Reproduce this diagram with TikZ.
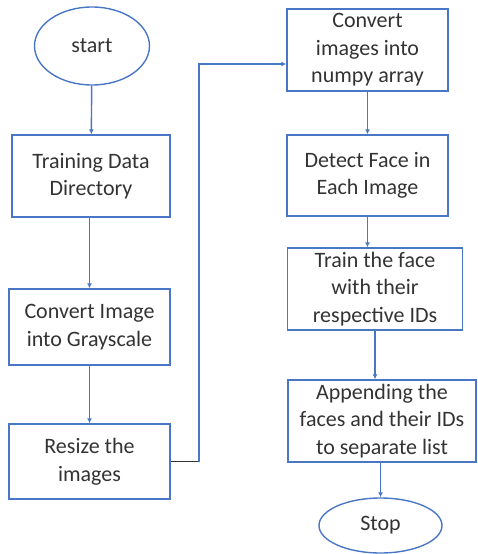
\documentclass[tikz,border=0pt]{standalone}
\usepackage{fontspec}
\setmainfont{Carlito}
\usetikzlibrary{shapes.geometric,arrows.meta}

\definecolor{flowblue}{HTML}{4A76C6}
\definecolor{inkgray}{HTML}{333333}

\tikzset{
  box/.style={draw=flowblue, line width=1.4pt, rectangle, align=center, inner sep=1pt,
    text=inkgray, font=\fontsize{22}{27.5}\selectfont},
  terminal/.style={draw=flowblue, line width=1.4pt, ellipse, inner sep=0pt,
    text=inkgray, font=\fontsize{22}{27.5}\selectfont},
  flow/.style={draw=flowblue, line width=1.4pt, -{Latex[length=5pt,width=5pt]}}
}

\begin{document}
\begin{tikzpicture}[x=1pt,y=-1pt]
    \useasboundingbox (0,0) rectangle (477,554);

    % left column
    \node[terminal, minimum width=115pt, minimum height=78pt] (start) at (92,46) {start};
    \node[box, minimum width=158pt, minimum height=82pt] (datadir) at (91,176) {Training Data\\Directory};
    \node[box, minimum width=161pt, minimum height=76pt] (grayscale) at (89.5,327) {Convert Image\\into Grayscale};
    \node[box, minimum width=161pt, minimum height=75pt] (resize) at (89.5,461.5) {Resize the\\images};

    % right column
    \node[box, minimum width=161pt, minimum height=82pt] (numpy) at (367.5,50) {Convert\\images into\\numpy array};
    \node[box, minimum width=161pt, minimum height=81pt] (detect) at (367.5,175.5) {Detect Face in\\Each Image};
    \node[box, minimum width=175pt, minimum height=82pt] (trainface) at (375,289) {Train the face\\with their\\respective IDs};
    \node[box, minimum width=188pt, minimum height=82pt] (append) at (382,421) {Appending the\\faces and their IDs\\to separate list};
    \node[terminal, minimum width=123pt, minimum height=55pt] (stop) at (380.5,525.5) {Stop};

    % connectors
    \draw[flow] (start) -- (datadir);
    \draw[flow] (datadir.south -| grayscale) -- (grayscale.north);
    \draw[flow] (grayscale) -- (resize);

    \coordinate (bend) at (199,461.5);
    \draw[inkgray, line width=1.2pt] (resize.east) -- (bend);
    \draw[flow] (bend) |- ([yshift=-14pt]numpy.west);

    \draw[flow] (numpy) -- (detect);
    \draw[flow] (detect.south) -- (detect.south |- trainface.north);
    \draw[flow] (trainface.south) -- (trainface.south |- append.north);
    \draw[flow] (stop.north |- append.south) -- (stop.north);
\end{tikzpicture}
\end{document}
